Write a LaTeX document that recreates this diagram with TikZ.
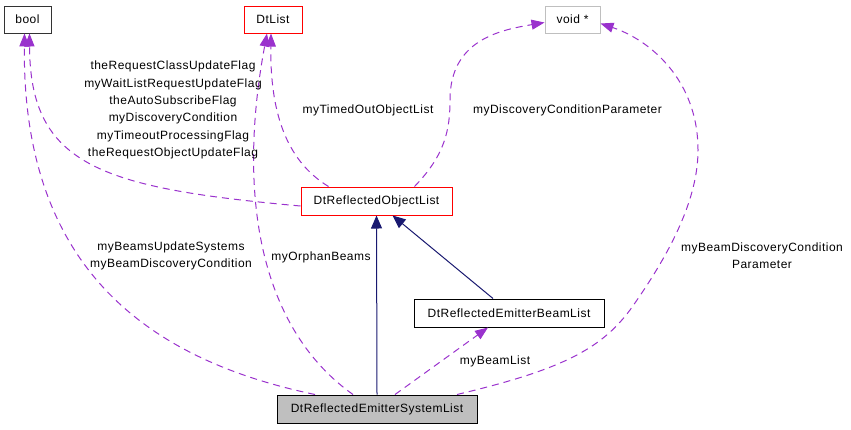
\documentclass[tikz,border=0pt]{standalone}
\usepackage{fontspec}
\setmainfont{Liberation Sans}[LetterSpace=4]
\usetikzlibrary{arrows.meta}
\definecolor{dep}{HTML}{9A32CD}
\definecolor{inh}{HTML}{191970}
\definecolor{boxgrey}{HTML}{BFBFBF}
\begin{document}
\begin{tikzpicture}[x=1pt,y=-1pt,
  box/.style={draw, line width=1pt, inner sep=0pt, font=\fontsize{12}{14}\selectfont},
  lbl/.style={inner sep=0pt, align=center, font=\fontsize{12}{17.3}\selectfont},
  usage/.style={draw=dep, line width=1pt, dash pattern=on 7pt off 5pt, -{Triangle[length=13pt,width=10pt]}},
  inherit/.style={draw=inh, line width=1pt, -{Triangle[length=13pt,width=11pt]}}]
\useasboundingbox (0,0) rectangle (851,429);
% nodes
\node[box, draw=black!80, minimum width=47pt, minimum height=27pt] (bool) at (27.5,19.5) {bool};
\node[box, draw=red, minimum width=58pt, minimum height=27pt] (dtlist) at (273,19.5) {DtList};
\node[box, draw=boxgrey, minimum width=55pt, minimum height=27pt] (void) at (572.5,19.5) {void *};
\node[box, draw=red, minimum width=151pt, minimum height=28pt] (rol) at (376.5,201) {DtReflectedObjectList};
\node[box, draw=black, minimum width=190pt, minimum height=28pt] (rebl) at (509,313) {DtReflectedEmitterBeamList};
\node[box, draw=black, fill=boxgrey, minimum width=200pt, minimum height=28pt] (resl) at (377,409) {DtReflectedEmitterSystemList};
% inheritance
\draw[inherit] (resl.north) -- (rol.south);
\draw[inherit] ([xshift=-16pt]rebl.north) -- ([xshift=16pt]rol.south);
% usage edges
\draw[usage] ([xshift=-62pt]resl.north) .. controls (150,360) and (22,270) .. ([xshift=-3pt]bool.south);
\draw[usage] ([yshift=-5pt]rol.west) .. controls (100,188) and (30,165) .. ([xshift=2pt]bool.south);
\draw[usage] ([xshift=-24pt]resl.north) .. controls (262,330) and (236,200) .. ([xshift=-6pt]dtlist.south);
\draw[usage] ([xshift=-48pt]rol.north) .. controls (285,160) and (270,110) .. ([xshift=-2pt]dtlist.south);
\draw[usage] ([xshift=38pt]rol.north) .. controls (445,155) and (450,130) .. (450,100) .. controls (450,40) and (500,30) .. ([yshift=-3pt]void.west);
\draw[usage] ([xshift=80pt]resl.north) .. controls (560,370) and (600,350) .. (630,310) .. controls (680,240) and (698,190) .. (698,150) .. controls (698,80) and (650,40) .. ([yshift=-4pt]void.east);
\draw[usage] ([xshift=18pt]resl.north) -- ([xshift=-21pt]rebl.south);
% labels
\node[lbl] (l1) at (173,110) {theRequestClassUpdateFlag\\myWaitListRequestUpdateFlag\\theAutoSubscribeFlag\\myDiscoveryCondition\\myTimeoutProcessingFlag\\theRequestObjectUpdateFlag};
\node[lbl] (l2) at (171,256) {myBeamsUpdateSystems\\myBeamDiscoveryCondition};
\node[lbl] (l3) at (321,257) {myOrphanBeams};
\node[lbl] (l4) at (368,110) {myTimedOutObjectList};
\node[lbl] (l5) at (567.5,110) {myDiscoveryConditionParameter};
\node[lbl] (l6) at (762,256) {myBeamDiscoveryCondition\\Parameter};
\node[lbl] (l7) at (495,361) {myBeamList};
\end{tikzpicture}
\end{document}
